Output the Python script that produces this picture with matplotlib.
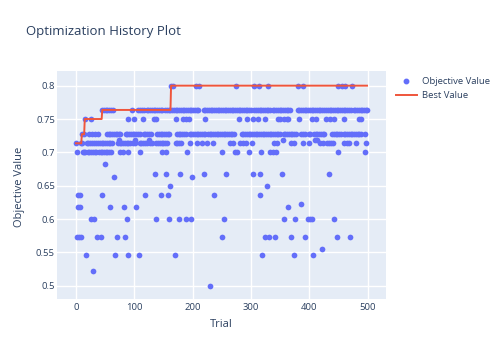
import matplotlib
matplotlib.use("Agg")
import matplotlib.pyplot as plt
from matplotlib.lines import Line2D
import numpy as np

plt.rcParams['font.family'] = ['Open Sans', 'DejaVu Sans']

# Objective value levels and the trial numbers observed at each level
trials_0800 = [163, 167, 205, 211, 274, 305, 313, 330, 380, 390, 450, 457, 462, 474]
trials_0764 = [45, 48, 51, 54, 57, 60, 63, 96, 107, 110, 113, 116,
               121, 124, 127, 130, 133, 136, 139, 142, 145, 148,
               152, 156, 159, 162, 165, 168, 171, 174, 177, 180, 183, 186, 189, 192, 195, 198, 201, 204, 207, 210,
               219, 222, 225, 228, 231, 234, 237, 240, 243, 246, 249, 252, 255, 258, 261, 264, 267, 270, 273,
               276, 279, 282, 285, 288, 291, 294, 297, 300,
               306, 309, 312, 315, 318, 321, 324, 327, 330, 333,
               337, 340, 343, 346, 349, 352, 355, 358, 361, 364, 367,
               380, 383, 386, 389, 392, 395, 398, 401, 404, 407, 410, 413, 416, 419, 422, 425, 428,
               432, 435, 438, 441, 444, 447, 450, 453, 456, 459, 462, 465, 468, 471,
               476, 479, 482, 485, 488, 491, 494, 497, 499]
trials_0750 = [15, 25, 90, 100, 115, 134, 138, 171, 184, 189, 194, 221, 280, 293, 304, 312, 324,
               347, 350, 357, 361, 364, 383, 405, 411, 429, 436, 443, 459, 485, 488]
trials_0727 = [10, 13, 22, 28, 33, 37,
               53, 56, 59, 62, 65, 68, 71, 74, 76,
               85, 88, 91, 94, 97, 100, 103, 106, 110,
               116, 119, 122, 125, 128,
               139, 142, 145, 148, 151, 154, 157, 160,
               173, 176, 179, 182, 185, 188,
               195, 198, 201, 204, 207, 210, 213, 216, 219, 222,
               226, 229, 232, 235, 238, 241, 244, 247, 250, 253, 256, 259, 262, 265, 268, 271,
               284, 287, 290, 293, 296, 299, 302, 305, 308, 311, 314, 317, 320, 323, 326, 329, 332,
               335, 338, 341, 344, 347, 350,
               356, 359, 362, 365, 368, 371, 374, 377,
               386, 389, 392,
               399, 402, 408, 411, 414, 417, 420, 423, 426,
               439, 442, 445, 448, 451, 454,
               459, 462, 465, 468, 471, 474, 477, 480, 483, 486, 489,
               495]
trials_0718 = [74, 101, 126, 355, 410, 414]
trials_0714 = [0, 9, 11, 18, 21, 24, 27, 31, 34, 38, 41, 44, 47, 50, 53, 56, 59, 62,
               72, 75, 78, 81, 84, 87, 90, 93, 98, 102,
               109, 112, 115, 118, 121, 127, 130, 138, 141, 144, 147, 150, 153, 156,
               171, 174, 177, 180, 196, 208, 216, 224, 235, 264, 270, 281, 287, 292, 301,
               339, 344, 368, 374, 390, 399, 419, 424, 430, 434, 438, 441, 460, 464, 468, 480, 497]
trials_0700 = [2, 12, 14, 16, 20, 23, 26, 29, 32, 35, 39, 42, 45, 48, 51, 54, 57, 60,
               76, 80, 89, 109, 148, 155, 190, 250, 273, 276, 296, 318, 333, 337, 343, 449, 495]
trials_0682 = [49]
trials_0668 = [136, 155, 179, 219, 257, 303, 316, 354, 433]
trials_0664 = [65, 199]
trials_0650 = [161, 327]
trials_0636 = [3, 6, 44, 118, 146, 158, 237, 315]
trials_0623 = [386]
trials_0618 = [4, 7, 58, 83, 103, 364]
trials_0600 = [26, 30, 87, 138, 160, 177, 188, 197, 253, 356, 376, 397, 401, 405, 442]
trials_0573 = [1, 5, 8, 36, 42, 70, 84, 251, 324, 331, 341, 369, 393, 447, 470]
trials_0555 = [421]
trials_0545 = [17, 67, 89, 108, 169, 319, 373, 407]
trials_0523 = [29]
trials_0500 = [229]

level_values = [0.8, 0.7636, 0.75, 0.7273, 0.7182, 0.7136, 0.7, 0.6818, 0.6682, 0.6636,
                0.65, 0.6364, 0.6227, 0.6182, 0.6, 0.5727, 0.5545, 0.5455, 0.5227, 0.5]
level_trials = [trials_0800, trials_0764, trials_0750, trials_0727, trials_0718, trials_0714,
                trials_0700, trials_0682, trials_0668, trials_0664, trials_0650, trials_0636,
                trials_0623, trials_0618, trials_0600, trials_0573, trials_0555, trials_0545,
                trials_0523, trials_0500]

x_ticks = [0, 100, 200, 300, 400, 500]
y_ticks = [0.5, 0.55, 0.6, 0.65, 0.7, 0.75, 0.8]
y_tick_labels = ["0.5", "0.55", "0.6", "0.65", "0.7", "0.75", "0.8"]

trials = np.concatenate([np.asarray(t, dtype=float) for t in level_trials])
values = np.concatenate([np.full(len(t), v) for t, v in zip(level_trials, level_values)])
order = np.argsort(trials, kind="stable")
trials_sorted = trials[order]
values_sorted = values[order]
best_values = np.maximum.accumulate(values_sorted)

TEXT = "#2a3f5f"
fig = plt.figure(figsize=(5.0, 3.57), dpi=100)
ax = fig.add_axes([57 / 500, 1 - 299.3 / 357, (386 - 57) / 500, (299.3 - 71) / 357])
ax.set_facecolor("#E5ECF6")
for s in ax.spines.values():
    s.set_visible(False)
ax.grid(True, color="white", linewidth=1.0)
ax.set_axisbelow(True)

ax.scatter(trials_sorted, values_sorted, s=17, color="#636EFA", linewidths=0, zorder=2)
ax.plot(trials_sorted, best_values, color="#EF553B", linewidth=1.4, zorder=3)

ax.set_xlim(-32.6, 531.6)
ax.set_ylim(0.4796, 0.822)
ax.set_xticks(x_ticks)
ax.set_yticks(y_ticks)
ax.set_yticklabels(y_tick_labels)
ax.tick_params(axis="y", length=0, labelsize=6.8, labelcolor=TEXT, pad=1.5)
ax.tick_params(axis="x", length=0, labelsize=6.8, labelcolor=TEXT, pad=2.5)
ax.set_xlabel("Trial", fontsize=8, color=TEXT)
ax.xaxis.set_label_coords((221 - 57) / (386 - 57), -(324.3 - 299.3) / (299.3 - 71))
ax.set_ylabel("Objective Value", fontsize=8, color=TEXT)
ax.yaxis.set_label_coords(-(57 - 20) / (386 - 57), (299.3 - 186.7) / (299.3 - 71))
ax.xaxis.label.set_va("center")
ax.yaxis.label.set_va("center")

fig.text(25.7 / 500, 1 - 32 / 357, "Optimization History Plot", fontsize=9.5, color=TEXT,
         ha="left", va="center")

handles = [Line2D([], [], marker="o", linestyle="none", color="#636EFA", markersize=3.2),
           Line2D([], [], color="#EF553B", linewidth=1.4)]
fig.legend(handles, ["Objective Value", "Best Value"], loc="upper left",
           bbox_to_anchor=(394 / 500, 1 - 75 / 357), frameon=False, fontsize=6.8,
           handlelength=2.2, handletextpad=0.55, labelspacing=0.55, borderaxespad=0,
           borderpad=0.2, labelcolor=TEXT)

fig.savefig("out.png", dpi=100)
